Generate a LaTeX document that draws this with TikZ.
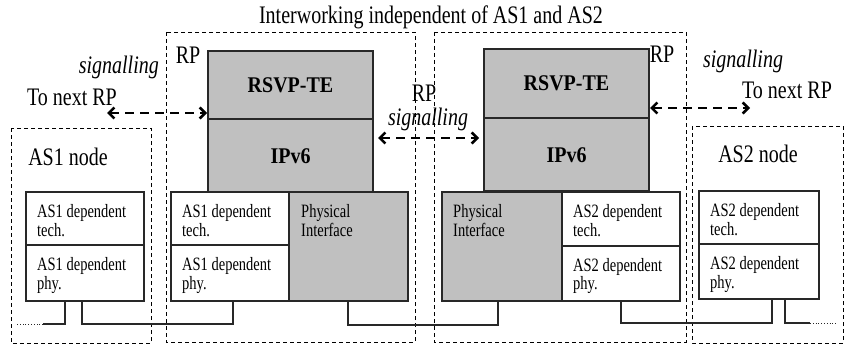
\documentclass[tikz,border=0pt]{standalone}
\usepackage{fontspec}
\usepackage{graphicx}
\setmainfont{Liberation Serif}
\usetikzlibrary{arrows.meta}
\definecolor{boxgray}{RGB}{192,192,192}
\definecolor{edge}{RGB}{40,40,40}
\newcommand{\vtxt}[1]{\scalebox{1}[1.26]{#1}}
\newcommand{\vbold}[1]{\scalebox{1}[1.12]{\bfseries #1}}
\newcommand{\vtwo}[2]{\scalebox{1}[1.3]{\begin{tabular}[t]{@{}l@{}}#1\\#2\end{tabular}}}
\begin{document}
\begin{tikzpicture}[x=1pt,y=-1pt,
  frame/.style={draw=black,line width=0.9pt,dash pattern=on 4pt off 3pt},
  solidbox/.style={draw=edge,line width=1.1pt},
  graybox/.style={solidbox,fill=boxgray},
  big/.style={font=\fontsize{20}{24}\selectfont,inner sep=0pt},
  bigit/.style={font=\fontsize{20}{24}\selectfont\itshape,inner sep=0pt},
  small/.style={font=\fontsize{14.5}{14.6}\selectfont,anchor=base west,inner sep=0pt},
  sigarrow/.style={line width=2.6pt,dash pattern=on 9pt off 6pt,{Straight Barb[length=5.5pt,width=11pt]}-{Straight Barb[length=5.5pt,width=11pt]}},
  wire/.style={draw=edge,line width=1.1pt},
  dotwire/.style={draw=edge,line width=0.8pt,dotted}]
\useasboundingbox (0,0) rectangle (846,345);
% dashed frames
\draw[frame] (166,32) rectangle (415,342);
\draw[frame] (434,32) rectangle (686,342);
\draw[frame] (11,128) rectangle (151,343);
\draw[frame] (692,126) rectangle (843,343);
% left RP stack
\draw[graybox] (208,51) rectangle (373,119);
\draw[graybox] (208,119) rectangle (373,192);
\node[big] (rsvp1) at (290.5,85) {\vbold{RSVP-TE}};
\node[big] (ipv61) at (290.5,156) {\vbold{IPv6}};
\draw[solidbox,fill=white] (171,192) rectangle (289,245);
\draw[solidbox,fill=white] (171,245) rectangle (289,301);
\draw[graybox] (289,192) rectangle (408,301);
\node[small] (t1) at (182,217.5) {\vtwo{AS1 dependent}{tech.}};
\node[small] (p1) at (182,270.5) {\vtwo{AS1 dependent}{phy.}};
\node[small] (pi1) at (301,217.5) {\vtwo{Physical}{Interface}};
% right RP stack
\draw[graybox] (484,49) rectangle (649,118);
\draw[graybox] (484,118) rectangle (649,191);
\node[big] (rsvp2) at (566.5,83.5) {\vbold{RSVP-TE}};
\node[big] (ipv62) at (566.5,155) {\vbold{IPv6}};
\draw[graybox] (442,192) rectangle (562,301);
\draw[solidbox,fill=white] (562,192) rectangle (680,246);
\draw[solidbox,fill=white] (562,246) rectangle (680,301);
\node[small] (pi2) at (453,217.5) {\vtwo{Physical}{Interface}};
\node[small] (t2) at (573,217.5) {\vtwo{AS2 dependent}{tech.}};
\node[small] (p2) at (573,271) {\vtwo{AS2 dependent}{phy.}};
% AS1 node
\draw[solidbox,fill=white] (26,192) rectangle (144,245);
\draw[solidbox,fill=white] (26,245) rectangle (144,301);
\node[small] (t0) at (37,217.5) {\vtwo{AS1 dependent}{tech.}};
\node[small] (p0) at (37,270.5) {\vtwo{AS1 dependent}{phy.}};
% AS2 node
\draw[solidbox,fill=white] (699,191) rectangle (819,244);
\draw[solidbox,fill=white] (699,244) rectangle (819,299);
\node[small] (t3) at (710,216.5) {\vtwo{AS2 dependent}{tech.}};
\node[small] (p3) at (710,269.5) {\vtwo{AS2 dependent}{phy.}};
% wires
\draw[wire] (65,301) -- (65,324) -- (43,324);
\draw[dotwire] (43,324) -- (17,324);
\draw[wire] (82,301) -- (82,324) -- (233,324) -- (233,301);
\draw[wire] (348,301) -- (348,325) -- (498,325) -- (498,301);
\draw[wire] (621,301) -- (621,323) -- (772,323) -- (772,299);
\draw[wire] (785,299) -- (785,323) -- (810,323);
\draw[dotwire] (810,323) -- (837,323);
% texts
\node[big] (title) at (431,17) {\vtxt{Interworking independent of AS1 and AS2}};
\node[big] (rpl) at (188,55) {\vtxt{RP}};
\node[bigit,anchor=east] (sigl) at (159,67) {\vtxt{signalling}};
\node[big] (tnl) at (72,97) {\vtxt{To next RP}};
\node[big] (as1n) at (68,157) {\vtxt{AS1 node}};
\node[big] (rpm) at (424,93) {\vtxt{RP}};
\node[bigit] (sigm) at (428,119) {\vtxt{signalling}};
\node[big] (rpr) at (662,54) {\vtxt{RP}};
\node[bigit] (sigr) at (743,61) {\vtxt{signalling}};
\node[big] (tnr) at (787,90) {\vtxt{To next RP}};
\node[big] (as2n) at (758,154) {\vtxt{AS2 node}};
% signalling arrows
\coordinate (al) at (107,113);
\coordinate (ar) at (207,113);
\coordinate (bl) at (378,138);
\coordinate (br) at (479,138);
\coordinate (cl) at (650,108);
\coordinate (cr) at (750,108);
\draw[sigarrow] (al) -- (ar);
\draw[sigarrow] (bl) -- (br);
\draw[sigarrow] (cl) -- (cr);
\end{tikzpicture}
\end{document}
